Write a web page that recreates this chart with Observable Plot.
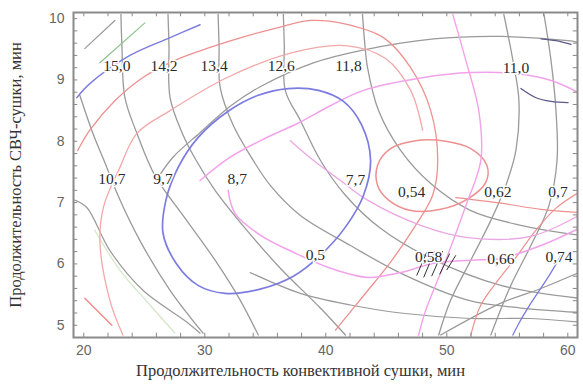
<!DOCTYPE html>
<html><head><meta charset="utf-8">
<script src="https://cdn.jsdelivr.net/npm/d3@7"></script>
<script src="https://cdn.jsdelivr.net/npm/@observablehq/plot@0.6"></script>
<style>body{margin:0;background:#fff}</style>
</head><body><div id="chart"></div>
<script>
// ---- axis tick values ----
const xTickValues = [20, 30, 40, 50, 60];
const yTickValues = [5, 6, 7, 8, 9, 10];
const xMinorTicks = [20,22,24,26,28,30,32,34,36,38,40,42,44,46,48,50,52,54,56,58,60];
const yMinorTicks = [5,5.2,5.4,5.6,5.8,6,6.2,6.4,6.6,6.8,7,7.2,7.4,7.6,7.8,8,8.2,8.4,8.6,8.8,9,9.2,9.4,9.6,9.8,10];
const xTitle = "Продолжительность конвективной сушки, мин";
const yTitle = "Продолжительность СВЧ-сушки, мин";

// ---- contour labels ----
const contourLabels = ["15,0","14,2","13,4","12,6","11,8","11,0","10,7","9,7","8,7","7,7","0,54","0,62","0,7","0,5","0,58","0,66","0,74"];
const labelX = [22.73,26.63,30.77,36.32,41.87,55.71,22.32,26.55,32.68,42.45,47.09,54.22,59.19,39.14,48.5,54.47,59.27];
const labelY = [9.22,9.22,9.22,9.22,9.22,9.19,7.39,7.39,7.39,7.36,7.17,7.17,7.17,6.14,6.11,6.08,6.11];

// ---- contour lines (x = конвективная, y = СВЧ) ----
const blueEllipse = [[26.55,6.5],[26.79,7.04],[27.79,7.57],[29.44,8.06],[31.93,8.49],[34.42,8.75],[36.9,8.86],[39.39,8.83],[41.46,8.65],[42.95,8.27],[43.7,7.69],[43.12,7.12],[41.62,6.6],[39.55,6.14],[37.32,5.8],[34.58,5.59],[31.68,5.52],[29.44,5.65],[27.7,5.99]];
const redEllipse = [[44.28,7.61],[45.35,7.88],[47.42,8.01],[49.91,8.0],[51.98,7.88],[53.31,7.61],[53.22,7.33],[51.81,7.07],[49.49,6.89],[47.01,6.87],[45.19,7.04],[44.28,7.28]];
const redArcA = [[19.5,7.85],[20.5,8.18],[22.57,8.66],[24.89,9.04],[27.54,9.32],[30.44,9.53],[33.34,9.71],[35.99,9.85],[38.72,9.97],[41.46,9.92],[44.77,9.69],[47.01,9.2],[48.67,8.5],[49.25,7.69],[48.83,7.12],[47.26,6.58],[45.35,6.03],[43.03,5.46],[40.8,4.92]];
const redArcB = [[23.23,4.84],[22.15,5.41],[21.33,6.38],[21.66,6.95],[22.98,7.57],[24.39,8.13],[27.13,8.5],[31.85,9.04],[37.32,9.45],[41.62,9.56],[44.94,9.35],[47.01,8.83],[48.0,8.18]];
const redRight = [[50.74,7.08],[54.47,6.99],[57.78,6.89],[60.93,6.84]];
const redSlant = [[51.98,4.84],[52.81,5.33],[54.22,5.73],[55.54,6.06],[57.37,6.55],[59.02,6.91],[60.93,7.17]];
const redShort = [[20.08,5.44],[22.32,5.0]];
const pinkTop = [[29.61,7.36],[32.1,7.74],[35.0,8.05],[37.65,8.29],[40.38,8.58],[43.12,8.83],[48.09,9.04],[51.98,9.12],[55.87,9.1],[58.61,8.99],[60.93,8.79]];
const pinkLow = [[31.93,7.2],[32.51,6.82],[34.58,6.47],[37.32,6.19],[40.38,5.93],[43.45,5.78],[46.18,5.86],[48.92,6.01],[51.98,6.06],[54.47,6.09],[57.78,6.3],[60.93,6.58]];
const pinkMid = [[37.07,8.01],[38.97,7.69],[41.21,7.36],[43.45,7.04],[47.84,6.63],[51.73,6.43],[56.95,6.45],[60.93,6.79]];
const pinkVert = [[50.49,10.07],[51.57,9.32],[52.64,8.5],[52.81,7.69],[51.57,6.95],[49.91,6.06],[48.25,5.24],[47.67,4.84]];
const grayR1 = [[54.71,10.07],[55.46,9.32],[55.96,8.66],[55.71,7.85],[54.88,7.28],[53.64,6.71],[51.98,6.06],[50.32,5.41],[49.33,4.84]];
const grayR2 = [[58.03,10.07],[58.61,9.32],[59.02,8.5],[59.11,7.69],[58.44,6.95],[56.95,6.3],[55.29,5.65],[53.64,4.84]];
const grayA = [[19.67,8.75],[20.75,8.13],[21.91,7.57],[22.82,7.12],[24.64,6.38],[27.13,5.57],[29.86,4.87]];
const gray1 = [[23.07,10.07],[23.15,9.56],[23.4,8.71],[24.39,8.13],[25.88,7.44],[28.2,6.79],[30.85,6.06],[32.92,5.41],[34.42,4.84]];
const gray2 = [[26.96,10.07],[27.04,9.56],[27.13,8.71],[28.12,8.14],[29.28,7.69],[30.85,7.2],[33.34,6.58],[36.24,5.93],[39.55,5.28],[41.62,4.84]];
const gray3 = [[31.1,10.07],[31.18,9.56],[31.27,8.88],[32.35,8.26],[33.75,7.77],[35.41,7.28],[37.9,6.79],[42.04,6.3],[46.18,5.85],[51.73,5.41],[56.12,5.28],[60.93,5.21]];
const gray4 = [[36.49,10.07],[36.57,9.56],[36.65,8.83],[37.9,8.34],[39.55,7.69],[41.62,7.12],[44.52,6.58],[48.67,6.09],[54.47,5.65],[60.93,5.44]];
const gray5 = [[43.03,10.07],[43.2,9.64],[43.45,9.2],[44.36,8.5],[46.18,7.85],[48.67,7.31],[51.98,6.87],[56.12,6.63],[60.93,6.47]];
const grayArc = [[25.88,7.33],[27.37,7.74],[29.61,8.14],[32.1,8.57],[34.58,8.89],[38.97,9.28],[42.87,9.48],[48.92,9.67],[54.47,9.71],[60.02,9.64],[60.93,9.61]];
const grayLow = [[33.75,5.86],[37.9,5.52],[42.04,5.33],[46.18,5.2],[51.98,5.11],[56.95,5.11],[60.93,5.05]];
const grayRise = [[49.49,4.84],[54.47,5.36],[57.78,5.6],[60.93,5.86]];
const grayLeft = [[19.25,7.04],[20.25,6.92],[22.15,6.22],[24.89,5.57],[28.53,5.05],[29.61,4.87]];
const grayCorner = [[20.08,9.51],[22.57,9.97]];
const greenCorner = [[21.33,9.28],[25.05,9.93]];
const greenLow = [[20.91,6.55],[22.98,5.9],[25.47,5.33],[27.54,4.87]];
const blueDiag = [[19.42,8.71],[20.5,8.94],[23.81,9.4],[27.13,9.69],[29.61,9.9]];
const blueSlant = [[59.44,6.14],[58.36,5.78],[56.95,5.36],[55.87,5.0],[55.46,4.84]];
const navy1 = [[56.12,8.86],[57.37,8.71],[58.61,8.65],[60.02,8.63]];
const navy2 = [[57.78,9.67],[59.02,9.64],[60.27,9.58]];
const hatch = [[47.51,5.81,48.34,6.19],[48.09,5.78,49.0,6.21],[48.75,5.8,49.66,6.21],[49.41,5.83,50.24,6.17],[49.99,5.9,50.74,6.14]];

const GRAY = "#9a9a9a", RED = "#ee9090", PINK = "#f2a2ea", BLUE = "#7c7ce0";
const lines = [
  [grayA, GRAY, 1.3, false], [gray1, GRAY, 1.3, false], [gray2, GRAY, 1.3, false],
  [gray3, GRAY, 1.3, false], [gray4, GRAY, 1.3, false], [gray5, GRAY, 1.3, false],
  [grayArc, GRAY, 1.3, false], [grayLow, GRAY, 1.2, false], [grayRise, GRAY, 1.2, false],
  [grayLeft, GRAY, 1.2, false], [grayR1, GRAY, 1.3, false], [grayR2, GRAY, 1.3, false],
  [grayCorner, GRAY, 1.2, false], [greenCorner, "#8cc48c", 1.2, false], [greenLow, "#d3e6c6", 1.2, false],
  [redArcA, RED, 1.3, false], [redArcB, "#f2a8a8", 1.3, false], [redEllipse, RED, 1.5, true],
  [redRight, RED, 1.2, false], [redSlant, RED, 1.2, false], [redShort, RED, 1.6, false],
  [pinkTop, PINK, 1.5, false], [pinkLow, PINK, 1.5, false], [pinkMid, "#eaa8e4", 1.3, false], [pinkVert, PINK, 1.4, false],
  [blueDiag, BLUE, 1.4, false], [blueSlant, BLUE, 1.3, false], [blueEllipse, BLUE, 1.7, true],
  [navy1, "#5a5a88", 1.3, false], [navy2, "#5a5a88", 1.3, false]
];

const X0 = 19.15, X1 = 60.8, Y0 = 4.8, Y1 = 10.1;
const labels = contourLabels.map((t, i) => ({t, x: labelX[i], y: labelY[i]}));

const marks = [
  ...lines.map(([pts, c, w, closed]) => Plot.line(pts, {x: d => d[0], y: d => d[1], stroke: c, strokeWidth: w, curve: closed ? "catmull-rom-closed" : "catmull-rom", clip: true})),
  Plot.link(hatch, {x1: d => d[0], y1: d => d[1], x2: d => d[2], y2: d => d[3], stroke: "#333", strokeWidth: 1}),
  Plot.text(labels, {x: "x", y: "y", text: "t", fontFamily: "Liberation Serif", fontSize: 15.5, fill: "#2a2a2a", stroke: "white", strokeWidth: 3, paintOrder: "stroke"}),
  // tick marks inside the frame
  Plot.ruleX(xMinorTicks, {x: d => d, y1: Y0, y2: Y0 + 0.07, stroke: "#888"}),
  Plot.ruleX(xMinorTicks, {x: d => d, y1: Y1, y2: Y1 - 0.07, stroke: "#888"}),
  Plot.ruleY(yMinorTicks, {y: d => d, x1: X0, x2: X0 + 0.35, stroke: "#888"}),
  Plot.ruleY(yMinorTicks, {y: d => d, x1: X1, x2: X1 - 0.35, stroke: "#888"}),
  Plot.frame({stroke: "#8a8a8a", strokeWidth: 2}),
  Plot.axisX(xTickValues, {anchor: "bottom", tickSize: 0, tickPadding: 8, label: null, tickFormat: d => d}),
  Plot.axisY(yTickValues, {anchor: "left", tickSize: 0, tickPadding: 9, label: null, tickFormat: d => d}),
  Plot.text([xTitle], {frameAnchor: "bottom", dy: 38, dx: -25, text: d => d, textAnchor: "middle", fontFamily: "Liberation Serif", fontSize: 16.5, fill: "#333"}),
  Plot.text([yTitle], {frameAnchor: "left", dx: -58, rotate: -90, text: d => d, textAnchor: "middle", fontFamily: "Liberation Serif", fontSize: 16.5, fill: "#333"})
];

const chart = Plot.plot({
  width: 583, height: 387,
  marginTop: 12, marginBottom: 50, marginLeft: 73, marginRight: 6,
  style: {fontFamily: "Liberation Sans", fontSize: "14px", color: "#666", background: "#fff"},
  x: {domain: [X0, X1]},
  y: {domain: [Y0, Y1]},
  marks
});
document.getElementById("chart").appendChild(chart);
</script></body></html>
